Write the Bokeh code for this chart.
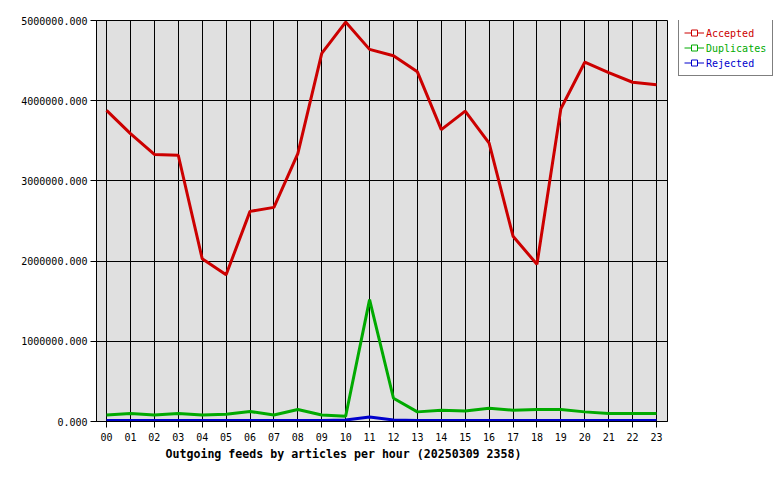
from bokeh.plotting import figure
from bokeh.layouts import row
from bokeh.models import (ColumnDataSource, Range1d, FixedTicker, Legend, LegendItem, Title)
from bokeh.embed import file_html
from bokeh.resources import INLINE

hours = list(range(24))
hour_labels = ["%02d" % h for h in hours]
accepted = [3880000, 3590000, 3330000, 3320000, 2030000, 1830000, 2620000, 2670000,
            3340000, 4590000, 4980000, 4640000, 4560000, 4360000, 3640000, 3870000,
            3470000, 2310000, 1960000, 3900000, 4480000, 4350000, 4230000, 4200000]
duplicates = [80000, 100000, 80000, 100000, 80000, 90000, 125000, 80000,
              150000, 80000, 65000, 1520000, 290000, 120000, 140000, 130000,
              165000, 140000, 150000, 150000, 120000, 100000, 100000, 100000]
rejected = [12000, 12000, 12000, 12000, 12000, 12000, 12000, 12000,
            12000, 12000, 20000, 55000, 18000, 12000, 12000, 12000,
            12000, 12000, 12000, 12000, 12000, 12000, 12000, 12000]
y_ticks = [0, 1000000, 2000000, 3000000, 4000000, 5000000]
y_labels = ["0.000", "1000000.000", "2000000.000", "3000000.000", "4000000.000", "5000000.000"]
series_names = ["Accepted", "Duplicates", "Rejected"]
series_colors = ["#cc0000", "#00aa00", "#0000cc"]
title_text = "Outgoing feeds by articles per hour (20250309 2358)"

FONT = "DejaVu Sans Mono"

p = figure(frame_width=571, frame_height=401, min_border_left=96, min_border_right=5,
           min_border_top=20, min_border_bottom=51, output_backend="svg",
           toolbar_location=None, x_range=Range1d(-0.42, 23.46), y_range=Range1d(0, 5000000))
p.background_fill_color = "#e0e0e0"
p.border_fill_color = "white"
p.outline_line_color = "black"
p.outline_line_width = 1

for ax in (p.xaxis[0], p.yaxis[0]):
    ax.axis_line_color = "black"
    ax.major_tick_line_color = "black"
    ax.minor_tick_line_color = None
    ax.major_tick_in = 0
    ax.major_tick_out = 6
    ax.major_label_text_font = FONT
    ax.major_label_text_font_size = "10px"
    ax.major_label_text_color = "black"
    ax.major_label_standoff = 3
p.xaxis[0].major_label_standoff = 5

p.xaxis.ticker = FixedTicker(ticks=hours)
p.xaxis.major_label_overrides = {h: l for h, l in zip(hours, hour_labels)}
p.yaxis.ticker = FixedTicker(ticks=y_ticks)
p.yaxis.major_label_overrides = {t: l for t, l in zip(y_ticks, y_labels)}

p.xgrid.grid_line_color = "black"
p.ygrid.grid_line_color = "black"
p.xgrid.grid_line_width = 1
p.ygrid.grid_line_width = 1
p.xgrid.grid_line_alpha = 1
p.ygrid.grid_line_alpha = 1

src = ColumnDataSource(dict(h=hours, a=accepted, d=duplicates, r=rejected))
cols = ["a", "d", "r"]
for col, color in zip(cols, series_colors):
    p.line("h", col, source=src, line_color=color, line_width=3)

t = Title(text=title_text, align="left", offset=69, text_font=FONT, text_font_size="11.6px",
          text_font_style="bold", text_color="black", standoff=2)
p.add_layout(t, "below")

# legend panel (its glyph renderers are hidden; they only style the legend swatches)
lg = figure(width=108, height=472, min_border=0, min_border_left=0, min_border_right=0,
            min_border_top=0, min_border_bottom=0, output_backend="svg", toolbar_location=None,
            x_axis_type=None, y_axis_type=None, x_range=Range1d(0, 1), y_range=Range1d(0, 1))
lg.grid.visible = False
lg.outline_line_color = None
lg.background_fill_color = "white"

items0 = []
for name, col, color in zip(series_names, cols, series_colors):
    ln = lg.line("h", col, source=src, line_color=color, line_width=1, visible=False)
    mk = lg.scatter("h", col, source=src, marker="square", size=5, line_color=color,
                    fill_color="white", line_width=1, visible=False)
    items0.append(LegendItem(label=name, renderers=[ln, mk]))
ghost = lg.line("h", "a", source=src, line_alpha=0, visible=False)

common = dict(padding=5, spacing=0, glyph_width=20, glyph_height=15, label_height=15,
              label_standoff=3, label_text_font=FONT, label_text_font_size="10px",
              margin=0, click_policy="none")
x0, y0 = 6, 345
L0 = Legend(items=items0, location=(x0, y0), border_line_color="black", border_line_width=1,
            background_fill_color="white", background_fill_alpha=1, label_text_alpha=0, **common)
lg.add_layout(L0, "center")
for i, (name, color) in enumerate(zip(series_names, series_colors)):
    Li = Legend(items=[LegendItem(label=name, renderers=[ghost])], location=(x0, y0 + (2 - i) * 15),
                border_line_alpha=0, background_fill_alpha=0, label_text_color=color, **common)
    lg.add_layout(Li, "center")

layout = row(p, lg)
open("out.html", "w").write(file_html(layout, INLINE))
